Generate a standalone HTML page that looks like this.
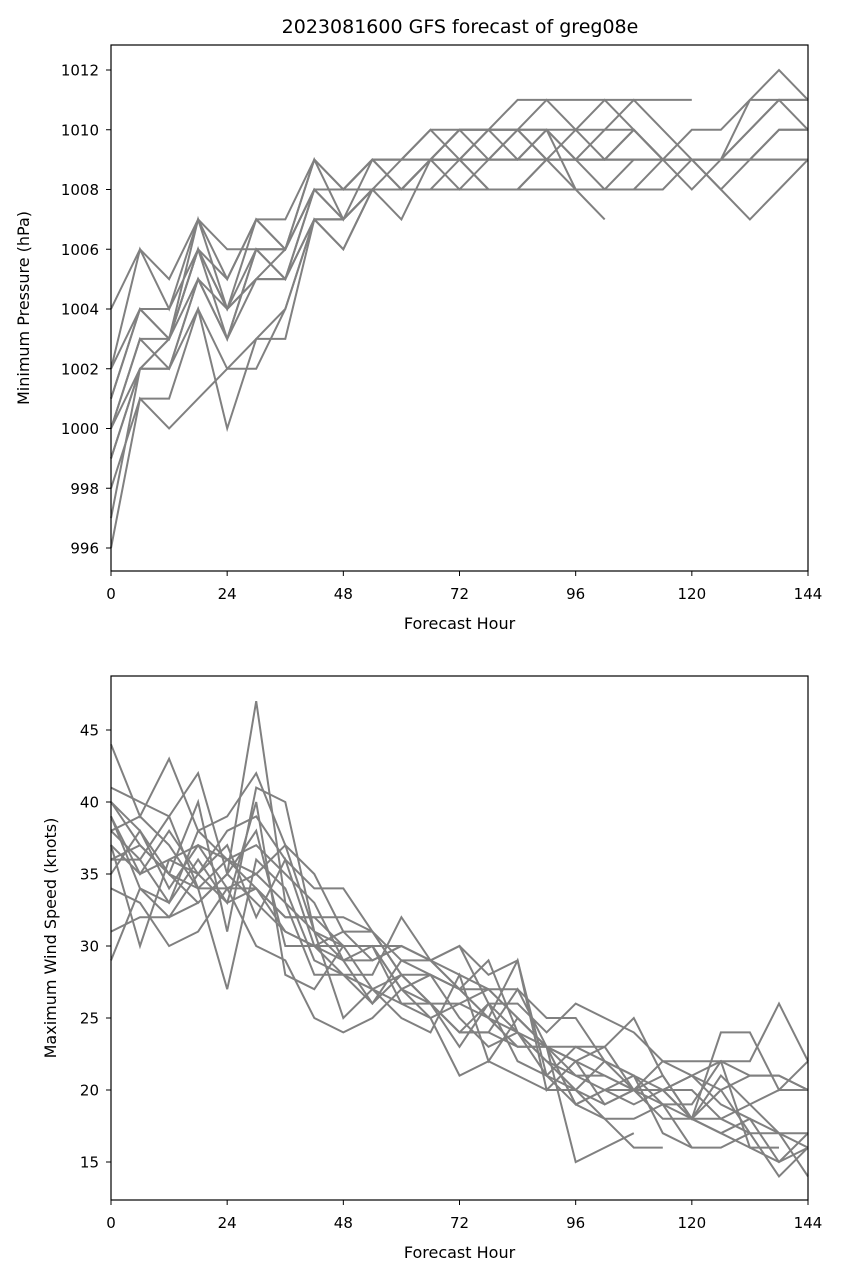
<!DOCTYPE html>
<html><head><meta charset="utf-8"><style>
body{margin:0;background:#fff;}
svg text{font-family:"DejaVu Sans","Liberation Sans",sans-serif;fill:#000;}
</style></head><body>
<svg id="c" width="843" height="1279" xmlns="http://www.w3.org/2000/svg"></svg>
<script>
const hourStep = 6;
const xTicks = [0,24,48,72,96,120,144];
const pTicks = [996,998,1000,1002,1004,1006,1008,1010,1012];
const wTicks = [15,20,25,30,35,40,45];
const pressureSeries = [
[1004,1006,1005,1007,1005,1007,1007,1009,1008,1009,1009,1010,1010,1010,1011,1011,1011,1011,1011,1011,1011],
[1002,1006,1004,1007,1006,1006,1006,1008,1008,1009,1008,1009,1010,1009,1010,1011,1010,1011,1010,1009,1009,1009,1010,1011,1011],
[1001,1004,1004,1006,1005,1007,1006,1008,1007,1008,1008,1009,1008,1009,1009,1010,1009,1009,1009,1009,1008,1009,1010,1011,1010],
[1000,1003,1003,1006,1004,1005,1006,1009,1007,1009,1009,1010,1009,1010,1010,1009,1009,1009,1009,1009,1009,1009,1009,1010,1010],
[999,1002,1002,1005,1003,1005,1005,1007,1007,1008,1009,1009,1009,1008,1008,1009,1009,1009,1010,1009,1009,1009,1009,1009,1009],
[998,1001,1001,1004,1002,1002,1004,1007,1007,1008,1008,1009,1010,1010,1010,1010,1008,1007],
[996,1001,1000,1001,1002,1003,1003,1007,1006,1008,1008,1008,1008,1008,1008,1009,1008,1008,1009],
[997,1002,1003,1006,1003,1006,1005,1008,1007,1008,1008,1009,1009,1010,1010,1010,1010,1010,1011,1010,1009,1008,1009,1010,1010],
[1001,1004,1003,1007,1004,1006,1006,1008,1008,1009,1009,1009,1010,1010,1009,1010,1009,1010,1010,1009,1009,1009,1011,1012,1011],
[1000,1003,1002,1004,1000,1003,1004,1007,1006,1008,1007,1009,1009,1008,1008,1008,1008,1008,1008,1008,1009],
[999,1002,1003,1005,1003,1006,1005,1007,1007,1008,1008,1009,1009,1009,1009,1009,1009,1009,1009,1009,1009,1009,1009,1009,1009],
[1002,1004,1003,1006,1004,1007,1006,1009,1008,1009,1008,1008,1009,1009,1010,1009,1010,1009,1010,1009,1010,1010,1011,1011,1011],
[1000,1002,1002,1005,1004,1005,1005,1008,1008,1008,1008,1009,1009,1009,1009,1009,1009,1008,1008,1009,1009,1008,1007,1008,1009]
];
const windSeries = [
[44,39,43,38,39,42,37,35,31,31,29,28,27,25,24,22,21,20,20,19,18,18,17,17,17],
[41,40,39,42,35,47,33,31,30,30,30,29,28,27,25,23,22,21,20,18,18,20,21,21,20],
[40,38,35,40,31,41,40,31,29,29,30,29,30,26,26,24,26,25,24,22,22,22,22,26,22],
[39,35,38,35,38,39,36,34,34,31,28,28,27,29,24,23,21,21,20,20,18,17,16,15,17],
[38,39,37,34,27,36,34,29,28,26,29,29,27,27,25,23,19,20,19,20,21,20,17,14,16],
[37,30,36,37,34,35,33,28,28,28,32,29,30,28,29,20,22,23,25,21,18,21,19,17,16],
[36,36,33,36,33,40,28,27,30,27,28,26,23,26,22,21,19,18,18,19,16],
[35,38,34,37,36,35,37,31,25,27,25,24,28,22,25,23,15,16,17],
[34,33,30,31,34,30,29,25,24,25,27,25,21,22,21,20,20,18,16,16],
[31,32,32,33,35,33,31,30,29,26,28,26,24,24,23,23,22,19,20,20,21,22,16,16],
[29,34,32,35,37,32,36,30,30,30,26,25,26,27,27,25,25,22,20,21,18,17,18,15,16],
[40,37,35,34,34,34,32,32,32,31,28,26,24,24,27,23,19,20,21,17,16,16,17],
[38,36,39,34,36,37,35,33,29,30,27,26,26,25,23,23,23,23,20,20,20,18,19,20,20],
[36,37,35,33,35,38,30,30,31,29,30,29,27,25,29,21,20,22,21,20,18,24,24,20,22],
[39,34,33,38,36,34,32,32,30,30,27,28,25,23,24,21,23,22,21,19,19,22,21,21,20],
[37,35,36,35,33,34,31,30,28,27,26,26,24,26,24,22,20,19,20,22,21,19,18,17,14]
];
const NS="http://www.w3.org/2000/svg";
const svg=document.getElementById('c');
function mk(t,a,p){const e=document.createElementNS(NS,t);for(const k in a)e.setAttribute(k,a[k]);(p||svg).appendChild(e);return e;}
function panel(cfg){
  const g=mk('g',{});
  
  
  const L=111,R=808;
  const x=h=>L+(h-0)/(144)*(R-L);
  const y=v=>cfg.y0px+(v-cfg.v0)*(cfg.y1px-cfg.y0px)/(cfg.v1-cfg.v0);
  cfg.series.forEach((s,i)=>{
    const pts=s.map((v,j)=>x(j*hourStep).toFixed(1)+','+y(v).toFixed(1)).join(' ');
    const pl=mk('polyline',{points:pts,fill:'none',stroke:'#808080','stroke-width':2},g);
    
    
  });
  const fr=mk('rect',{x:L,y:cfg.top,width:R-L,height:cfg.bot-cfg.top,fill:'none',stroke:'#000','stroke-width':1.2},g);
  
  
  xTicks.forEach(t=>{
    mk('line',{x1:x(t),x2:x(t),y1:cfg.bot,y2:cfg.bot+5,stroke:'#000'},g);
    const tx=mk('text',{x:x(t),y:cfg.bot+28,'text-anchor':'middle','font-size':15},g);tx.textContent=t;
    
    
  });
  cfg.ticks.forEach(t=>{
    mk('line',{x1:L-5,x2:L,y1:y(t),y2:y(t),stroke:'#000'},g);
    const tx=mk('text',{x:L-12,y:y(t)+5.5,'text-anchor':'end','font-size':15},g);tx.textContent=t;
    
    
  });
  const xl=mk('text',{x:(L+R)/2,y:cfg.bot+58,'text-anchor':'middle','font-size':16},g);xl.textContent='Forecast Hour';
  
  
  const cy=(cfg.top+cfg.bot)/2;
  const yl=mk('text',{x:cfg.ylx,y:cy,'text-anchor':'middle','font-size':16,transform:`rotate(-90 ${cfg.ylx} ${cy})`},g);yl.textContent=cfg.ylabel;
  
  
}
panel({name:'pressure-panel',series:pressureSeries,ticks:pTicks,v0:996,v1:1012,y0px:548,y1px:70,top:45,bot:571,ylx:29,ylabel:'Minimum Pressure (hPa)'});
panel({name:'wind-panel',series:windSeries,ticks:wTicks,v0:15,v1:45,y0px:1162,y1px:730,top:676,bot:1200,ylx:56,ylabel:'Maximum Wind Speed (knots)'});
const t=mk('text',{x:460,y:33,'text-anchor':'middle','font-size':19});t.textContent='2023081600 GFS forecast of greg08e';


</script>
</body></html>
